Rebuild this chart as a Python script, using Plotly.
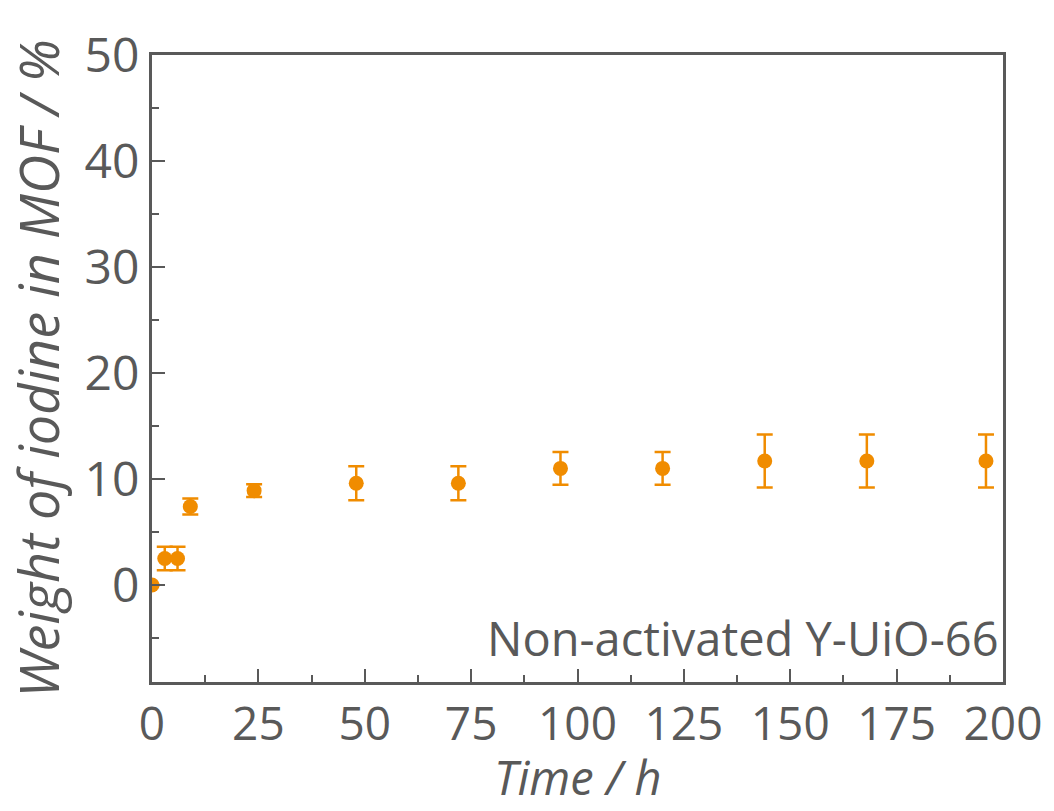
import plotly.graph_objects as go

time_h = [0, 3, 6, 9, 24, 48, 72, 96, 120, 144, 168, 196]
weight_pct = [0.0, 2.5, 2.5, 7.4, 8.9, 9.6, 9.6, 11.0, 11.0, 11.7, 11.7, 11.7]
err_pct = [0.0, 1.1, 1.1, 0.75, 0.6, 1.6, 1.6, 1.55, 1.55, 2.5, 2.5, 2.5]

x_ticks = [0, 25, 50, 75, 100, 125, 150, 175, 200]
y_ticks = [0, 10, 20, 30, 40, 50]

orange = "#F08C00"
gray = "#595959"
font_family = "Open Sans"

fig = go.Figure()
fig.add_trace(go.Scatter(
    x=time_h, y=weight_pct, mode="markers",
    marker=dict(color=orange, size=15, line=dict(width=0)),
    error_y=dict(type="data", array=err_pct, visible=True, color=orange,
                 thickness=2.5, width=8),
    showlegend=False,
))

axis_common = dict(
    showline=True, linecolor=gray, linewidth=3, mirror=True,
    ticks="inside", ticklen=13, tickwidth=2, tickcolor=gray,
    showgrid=False, zeroline=False, automargin=False,
    tickfont=dict(family=font_family, size=46, color=gray),
)

fig.update_xaxes(
    range=[0, 200], tickvals=x_ticks,
    minor=dict(tickvals=[12.5, 37.5, 62.5, 87.5, 112.5, 137.5, 162.5, 187.5],
               ticks="inside", ticklen=7, tickwidth=2, tickcolor=gray),
    **axis_common,
)
fig.update_yaxes(
    range=[-9.15, 50], tickvals=y_ticks,
    minor=dict(tickvals=[-5, 5, 15, 25, 35, 45],
               ticks="inside", ticklen=7, tickwidth=2, tickcolor=gray),
    tickfont=dict(family=font_family, size=48, color=gray),
    title=dict(text="<i>Weight of iodine in MOF / %</i>", font=dict(family=font_family, size=54, color=gray), standoff=8),
    **{k: v for k, v in axis_common.items() if k != "tickfont"},
)

fig.add_annotation(
    text="<i>Time / h</i>", xref="paper", yref="paper",
    x=0.5, y=-0.2065, xanchor="center", yanchor="bottom", showarrow=False,
    font=dict(family=font_family, size=47, color=gray),
)

fig.add_annotation(
    text="Non-activated Y-UiO-66", xref="x", yref="y",
    x=199.5, y=-5, xanchor="right", yanchor="middle", showarrow=False,
    font=dict(family=font_family, size=47, color=gray),
)

fig.update_layout(
    width=1054, height=811,
    margin=dict(l=152, r=51, t=55, b=129),
    paper_bgcolor="white", plot_bgcolor="white",
)

fig.write_html("out.html")
